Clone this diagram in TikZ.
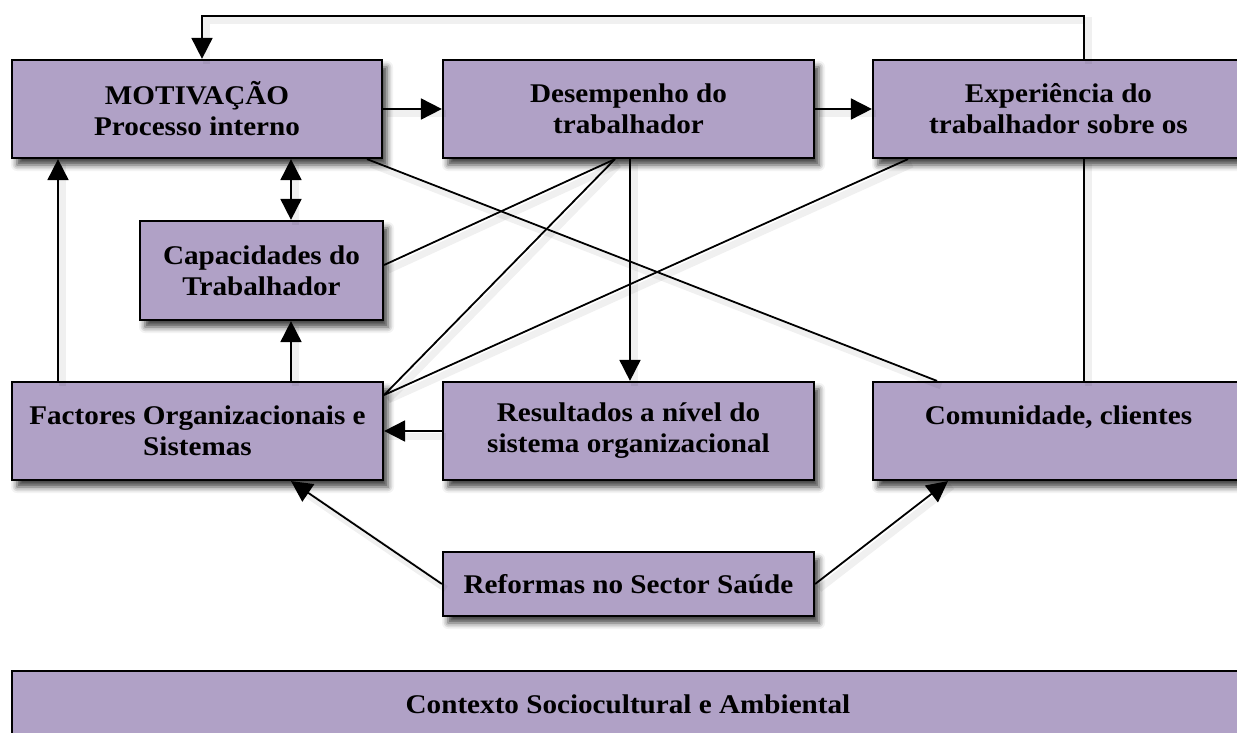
\documentclass[tikz,border=0pt]{standalone}
\usepackage{fontspec}
\setmainfont{Liberation Serif}[FakeStretch=1.08]
\usetikzlibrary{arrows.meta,shadows.blur,calc}
\definecolor{boxfill}{HTML}{B0A1C6}
\begin{document}
\begin{tikzpicture}[x=1pt,y=-1pt,
  box/.style={draw=black, line width=2.2pt, fill=boxfill, inner sep=0pt, align=center,
    font=\fontsize{27}{31}\selectfont\bfseries, text=black,
    blur shadow={shadow xshift=5pt, shadow yshift=-7pt, shadow blur radius=6pt, shadow opacity=75}},
  conn/.style={line width=1.8pt, draw=black,
    preaction={arrows=-, draw=black, draw opacity=0.06, line width=7pt, transform canvas={shift={(4pt,-5pt)}}}},
  arr/.style={conn, -{Triangle[length=21pt,width=21pt]}},
  dbl/.style={conn, {Triangle[length=21pt,width=21pt]}-{Triangle[length=21pt,width=21pt]}},
]
\useasboundingbox (0,0) rectangle (1237,733);
\clip (0,0) rectangle (1237,733);

% boxes
\node[box, minimum width=370pt, minimum height=98pt] (mot) at (197,109) {MOTIVAÇÃO\\Processo interno};
\node[box, minimum width=371pt, minimum height=98pt] (des) at (628.5,109) {Desempenho do\\trabalhador};
\node[box, minimum width=371pt, minimum height=98pt] (exp) at (1058.5,109) {Experiência do\\trabalhador sobre os};
\node[box, minimum width=243pt, minimum height=99pt] (cap) at (261.5,270.5) {Capacidades do\\Trabalhador};
\node[box, minimum width=371pt, minimum height=98pt] (fac) at (197.5,431) {Factores Organizacionais e\\Sistemas};
\node[box, minimum width=371pt, minimum height=98pt] (res) at (628.5,431) {Resultados a nível do\\sistema organizacional};
\node[box, minimum width=371pt, minimum height=98pt] (com) at (1058.5,431) {Comunidade, clientes\\\mbox{}};
\node[box, minimum width=371pt, minimum height=64pt] (ref) at (628.5,584) {Reformas no Sector Saúde};
\node[box, minimum width=1232pt, minimum height=98pt] (ctx) at (628,720) {Contexto Sociocultural e Ambiental\\\mbox{}};

% helper coordinates
\coordinate (t1) at (1084,16);
\coordinate (t2) at (202,16);
\coordinate (xa) at (58,0);
\coordinate (xb) at (291,0);
\coordinate (xc) at (630,0);
\coordinate (dfan) at (615,0);
\coordinate (capr) at (0,265);
\coordinate (facr) at (0,395);
\coordinate (xe) at (908,0);
\coordinate (xm) at (367,0);
\coordinate (xcm) at (937,0);
\coordinate (xr2) at (948,0);

% connectors
\draw[arr] (exp.north -| t1) -- (t1) -- (t2) -- (mot.north -| t2);
\draw[conn] (exp.south -| t1) -- (com.north -| t1);
\draw[arr] (mot.east) -- (des.west);
\draw[arr] (des.east) -- (exp.west);
\draw[arr] (fac.north -| xa) -- (mot.south -| xa);
\draw[dbl] (mot.south -| xb) -- (cap.north -| xb);
\draw[arr] (fac.north -| xb) -- (cap.south -| xb);
\draw[arr] (des.south -| xc) -- (res.north -| xc);
\draw[arr] (res.west) -- (fac.east);
\draw[conn] (des.south -| dfan) -- (cap.east |- capr);
\draw[conn] (des.south -| dfan) -- (fac.east |- facr);
\draw[conn] (exp.south -| xe) -- (fac.east |- facr);
\draw[conn] (mot.south -| xm) -- (com.north -| xcm);
\draw[arr] (ref.west) -- (fac.south -| xb);
\draw[arr] (ref.east) -- (com.south -| xr2);
\end{tikzpicture}
\end{document}
